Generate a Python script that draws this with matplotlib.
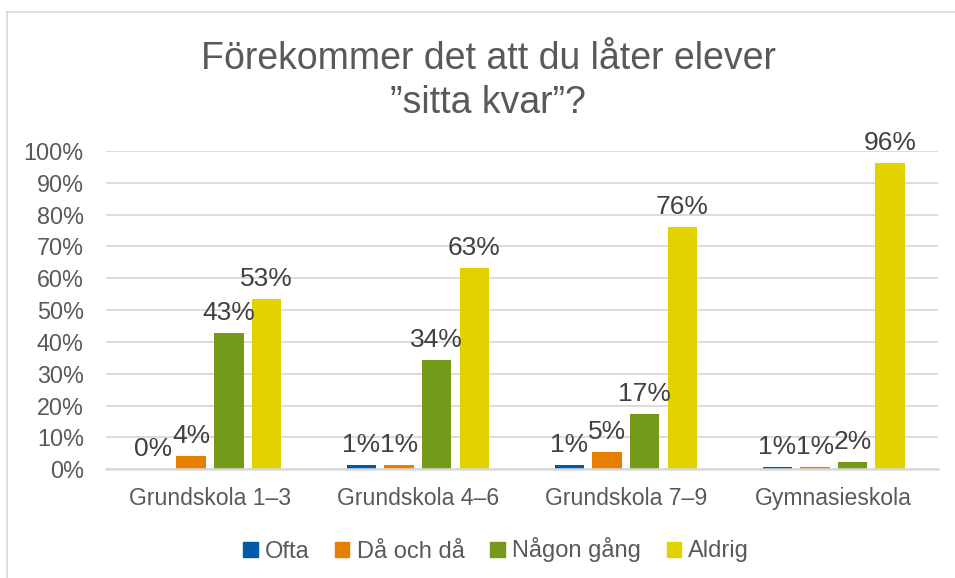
import matplotlib
matplotlib.use("Agg")
import matplotlib.pyplot as plt
import numpy as np
from matplotlib.patches import Rectangle
from matplotlib.lines import Line2D

plt.rcParams['font.family'] = ['Liberation Sans', 'DejaVu Sans']

categories = ["Grundskola 1–3", "Grundskola 4–6", "Grundskola 7–9", "Gymnasieskola"]
series_names = ["Ofta", "Då och då", "Någon gång", "Aldrig"]
ofta = [0.0, 1.3, 1.2, 0.7]
da_och_da = [4.1, 1.3, 5.4, 0.6]
nagon_gang = [42.8, 34.2, 17.4, 2.3]
aldrig = [53.4, 63.2, 76.0, 96.2]
yticks = [0, 10, 20, 30, 40, 50, 60, 70, 80, 90, 100]
colors = ["#005AA7", "#E67E00", "#739A18", "#E2D300"]
title = "Förekommer det att du låter elever\n\u201dsitta kvar\u201d?"

W, H = 955, 578
fig = plt.figure(figsize=(W / 100, H / 100), dpi=100)
ax = fig.add_axes([106 / W, 1 - 469.3 / H, (937.7 - 106) / W, (469.3 - 151) / H])

# border of chart area (partially cropped)
fig.add_artist(Line2D([7 / W, 7 / W], [0, 1 - 12 / H], transform=fig.transFigure,
                      color="#d9d9d9", lw=1.2))
fig.add_artist(Line2D([7 / W, 1], [1 - 12 / H, 1 - 12 / H], transform=fig.transFigure,
                      color="#d9d9d9", lw=1.2))

data = [ofta, da_och_da, nagon_gang, aldrig]
x = np.arange(len(categories))
pitch = 0.181
width = 0.142
for i, (vals, c, name) in enumerate(zip(data, colors, series_names)):
    pos = x + (i - 1.5) * pitch
    ax.bar(pos, vals, width=width, color=c, label=name, zorder=3)
    for p, v in zip(pos, vals):
        ax.annotate(f"{round(v):d}%", (p, v), xytext=(0, 6), textcoords="offset points",
                    ha="center", va="bottom", fontsize=19, color="#404040", zorder=4)

ax.set_xlim(-0.5, len(categories) - 0.5)
ax.set_ylim(0, 100)
ax.set_yticks(yticks)
ax.set_yticklabels([f"{t}%" for t in yticks])
ax.set_xticks(x)
ax.set_xticklabels(categories)
ax.tick_params(axis="y", length=0, pad=16, labelsize=16.8, labelcolor="#595959")
ax.tick_params(axis="x", length=0, pad=13, labelsize=16.6, labelcolor="#595959")
ax.grid(axis="y", color="#d9d9d9", lw=1.3, zorder=0)
ax.set_axisbelow(True)
for s in ["top", "right", "left"]:
    ax.spines[s].set_visible(False)
ax.spines["bottom"].set_color("#d9d9d9")
ax.spines["bottom"].set_linewidth(1.8)
ax.spines["bottom"].set_zorder(5)

fig.text(488 / W, 1 - 81 / H, title, ha="center", va="center", fontsize=27,
         color="#595959", linespacing=1.27)

handles = [Rectangle((0, 0), 1, 1, color=c) for c in colors]
fig.legend(handles, series_names, loc="center", bbox_to_anchor=(496 / W, 1 - 550 / H),
           ncol=4, frameon=False, fontsize=17, handlelength=0.6, handleheight=0.6,
           handletextpad=0.3, columnspacing=1.1, labelcolor="#595959")

fig.savefig("out.png", dpi=100)
